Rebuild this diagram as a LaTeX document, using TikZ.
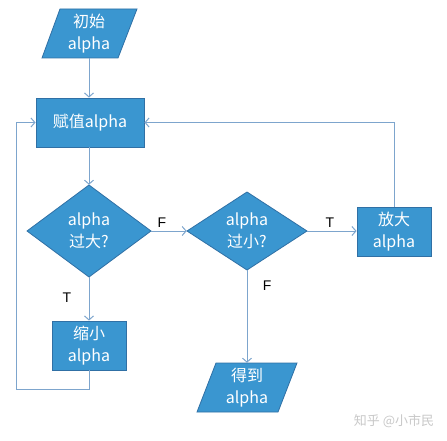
\documentclass[tikz,border=0pt]{standalone}
\usepackage{fontspec}
\setmainfont{Noto Sans CJK SC}
\setsansfont{Liberation Sans}
\usetikzlibrary{arrows.meta}
\definecolor{boxfill}{RGB}{58,150,208}
\definecolor{boxline}{RGB}{48,112,165}
\definecolor{connc}{RGB}{125,165,205}
\definecolor{wm}{RGB}{200,200,200}
\begin{document}
\begin{tikzpicture}[x=1pt,y=-1pt,
  shapefill/.style={fill=boxfill,draw=boxline,line width=0.8pt},
  anchorbox/.style={inner sep=0pt,text=white,align=center,font=\fontsize{16}{22}\selectfont},
  conn/.style={draw=connc,line width=1pt,-{Straight Barb[length=4pt,width=9pt]}},
  lbl/.style={font=\sffamily\fontsize{14}{16}\selectfont,text=black}]
\useasboundingbox (0,0) rectangle (447,441);

% start parallelogram
\path[shapefill] (60,9) -- (137,9) -- (118,58) -- (42,58) -- cycle;
\node[anchorbox,minimum width=76pt,minimum height=49pt] (start) at (89,33.5) {初始\\alpha};

% assign
\node[shapefill,anchorbox,minimum width=108pt,minimum height=49pt] (assign) at (90,122.5) {赋值alpha};

% diamond 1
\path[shapefill] (89,185) -- (151,231) -- (89,277) -- (27,231) -- cycle;
\node[anchorbox,minimum width=124pt,minimum height=92pt] (d1) at (89,231) {alpha\\过大?};

% diamond 2
\path[shapefill] (247,192) -- (307,231) -- (247,270) -- (187,231) -- cycle;
\node[anchorbox,minimum width=120pt,minimum height=78pt] (d2) at (247,231) {alpha\\过小?};

% grow
\node[shapefill,anchorbox,minimum width=74pt,minimum height=49pt] (grow) at (394,231.5) {放大\\alpha};

% shrink
\node[shapefill,anchorbox,minimum width=74pt,minimum height=49pt] (shrink) at (89,345.5) {缩小\\alpha};

% result parallelogram
\path[shapefill] (216,363) -- (297,363) -- (278,412) -- (197,412) -- cycle;
\node[anchorbox,minimum width=81pt,minimum height=49pt] (res) at (247,387.5) {得到\\alpha};

\coordinate (loopbl) at (16,389);

% connectors
\draw[conn] (start.south) -- (start.south |- assign.north);
\draw[conn] (assign.south -| d1.north) -- (d1.north);
\draw[conn] (d1.east) -- (d2.west) node[lbl,above,pos=0.3]{F};
\draw[conn] (d2.east) -- (d2.east -| grow.west) node[lbl,above,pos=0.46]{T};
\draw[conn] (d1.south) -- (shrink.north) node[lbl,left=14pt,pos=0.48]{T};
\draw[conn] (d2.south) -- (res.north) node[lbl,right=12pt,pos=0.17]{F};
\draw[conn] (grow.north) |- (assign.east);
\draw[conn] (shrink.south) |- (loopbl) |- (assign.west);

% watermark
\node[text=wm,font=\fontsize{13}{15}\selectfont] (wmark) at (394,421) {知乎 @小市民};
\end{tikzpicture}
\end{document}
